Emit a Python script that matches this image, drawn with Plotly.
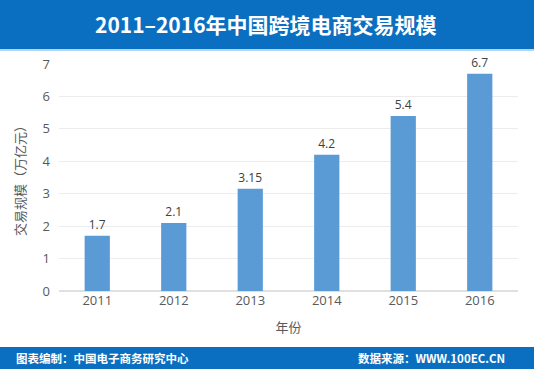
import plotly.graph_objects as go

years = ["2011", "2012", "2013", "2014", "2015", "2016"]
values = [1.7, 2.1, 3.15, 4.2, 5.4, 6.7]
labels = ["1.7", "2.1", "3.15", "4.2", "5.4", "6.7"]

title_text = "2011–2016年中国跨境电商交易规模"
y_title = "交易规模（万亿元）"
x_title = "年份"
footer_left = "图表编制：中国电子商务研究中心"
footer_right = "数据来源：WWW.100EC.CN"

band = "#0b6fc1"
font_cjk = "Noto Sans CJK SC"

fig = go.Figure()
fig.add_trace(go.Bar(
    x=years, y=values, text=labels, textposition="outside",
    textfont=dict(size=12, color="#404040", family="Open Sans"),
    marker=dict(color="#5b9bd5", line=dict(width=0)),
    width=0.33, cliponaxis=False,
))

fig.update_layout(
    width=534, height=369,
    margin=dict(l=59, r=16, t=64, b=78),
    paper_bgcolor="white", plot_bgcolor="white",
    showlegend=False,
    xaxis=dict(
        tickfont=dict(size=13, color="#595959", family="Open Sans"),
        showgrid=False, showline=False, ticks="",
        title=dict(text=x_title, font=dict(size=13, color="#595959", family=font_cjk), standoff=14),
    ),
    yaxis=dict(
        range=[0, 7], dtick=1,
        tickfont=dict(size=13, color="#595959", family="Open Sans"),
        showgrid=True, gridcolor="#ececec", gridwidth=1,
        zeroline=True, zerolinecolor="#e0e0e0",
        showline=False, ticks="", ticklabelstandoff=8,
        title=dict(text=y_title, font=dict(size=13, color="#595959", family=font_cjk), standoff=14),
    ),
    shapes=[
        dict(type="rect", xref="paper", yref="paper", x0=-0.2, x1=1.2,
             y0=(369 - 49 - 78) / 227, y1=(369 - 78) / 227 + 0.0,
             fillcolor=band, line=dict(width=0), layer="below"),
        dict(type="line", xref="paper", yref="paper", x0=-0.2, x1=1.2,
             y0=(369 - 50 - 78) / 227, y1=(369 - 50 - 78) / 227,
             line=dict(color="#9cc8ec", width=1.5)),
        dict(type="rect", xref="paper", yref="paper", x0=-0.2, x1=1.2,
             y0=-78 / 227, y1=-(347 - 291) / 227,
             fillcolor=band, line=dict(width=0), layer="below"),
    ],
    annotations=[
        dict(text="<b>" + title_text + "</b>", xref="paper", yref="paper",
             x=(266 - 59) / 459, y=(369 - 24 - 78) / 227, xanchor="center", yanchor="middle",
             showarrow=False, font=dict(size=21, color="white", family=font_cjk)),
        dict(text="<b>" + footer_left + "</b>", xref="paper", yref="paper",
             x=(14 - 59) / 459, y=-(358 - 291) / 227, xanchor="left", yanchor="middle",
             showarrow=False, font=dict(size=11.5, color="white", family=font_cjk)),
        dict(text="<b>" + footer_right + "</b>", xref="paper", yref="paper",
             x=(507 - 59) / 459, y=-(358 - 291) / 227, xanchor="right", yanchor="middle",
             showarrow=False, font=dict(size=11.5, color="white", family=font_cjk)),
    ],
)

fig.write_html("out.html", config={"displayModeBar": False},
               post_script="document.body.style.margin='0';document.body.style.overflow='hidden';")
